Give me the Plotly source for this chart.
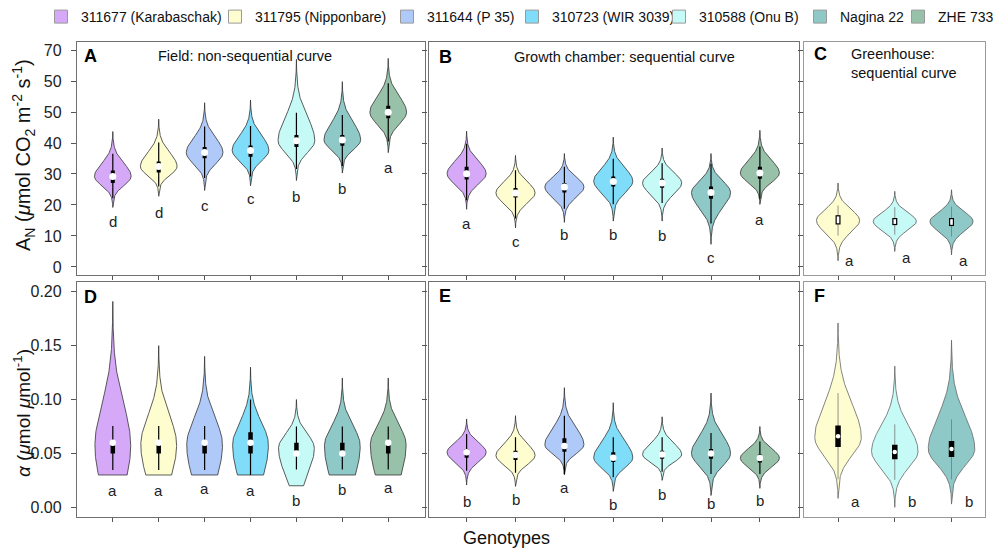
import numpy as np
import plotly.graph_objects as go

# ---------------- data ----------------
GENOTYPES = ["311677 (Karabaschak)", "311795 (Nipponbare)", "311644 (P 35)",
             "310723 (WIR 3039)", "310588 (Onu B)", "Nagina 22", "ZHE 733"]
COLORS = ["#D6A9F8", "#FEFDD0", "#AFC9F9", "#80DDF9", "#C6FAF6", "#8EC9C8", "#97C2A9"]

# Panel A - Field: non-sequential curve (A_N)
a_geno = [0, 1, 2, 3, 4, 5, 6]
a_tip_lo = [19.2, 22.8, 24.7, 26.2, 27.9, 30.3, 36.9]
a_tip_hi = [43.7, 47.7, 53.0, 53.9, 67.0, 59.8, 67.3]
a_mode = [29.2, 32.4, 36.9, 37.6, 40.7, 41.0, 49.9]
a_wlo = [22.2, 26.0, 28.7, 29.2, 31.6, 32.6, 40.5]
a_whi = [36.5, 40.2, 45.3, 45.5, 49.8, 49.0, 59.3]
a_q1 = [27.1, 30.5, 35.1, 35.6, 38.7, 39.1, 48.0]
a_q3 = [31.1, 34.0, 38.7, 39.2, 42.6, 42.6, 52.0]
a_med = [29.2, 32.4, 36.9, 37.6, 40.7, 41.0, 49.9]
a_letters = ["d", "d", "c", "c", "b", "b", "a"]
a_letter_y = [14.7, 17.6, 19.8, 22.2, 22.8, 25.4, 32.2]

# Panel B - Growth chamber: sequential curve (A_N)
b_geno = [0, 1, 2, 3, 4, 5, 6]
b_tip_lo = [18.6, 12.6, 14.4, 14.8, 14.8, 7.3, 20.2]
b_tip_hi = [43.8, 36.0, 36.6, 41.9, 38.4, 36.6, 44.1]
b_mode = [30.1, 23.9, 25.8, 27.7, 27.1, 24.0, 30.3]
b_wlo = [21.5, 15.6, 18.8, 20.2, 20.6, 14.0, 22.0]
b_whi = [39.8, 31.2, 32.3, 34.9, 33.5, 33.3, 38.9]
b_q1 = [28.2, 22.4, 24.0, 26.0, 25.6, 22.0, 28.5]
b_q3 = [32.3, 25.5, 27.1, 29.2, 28.5, 26.0, 32.3]
b_med = [30.1, 23.9, 25.8, 27.6, 27.1, 24.0, 30.3]
b_letters = ["a", "c", "b", "b", "b", "c", "a"]
b_letter_y = [14.0, 8.3, 10.5, 10.5, 10.3, 3.2, 15.4]

# Panel C - Greenhouse: sequential curve (A_N)
c_geno = [1, 4, 5]
c_tip_lo = [2.0, 5.0, 3.9]
c_tip_hi = [27.1, 24.4, 24.9]
c_mode = [15.0, 14.7, 14.7]
c_wlo = [10.1, 10.4, 9.8]
c_whi = [19.8, 19.3, 19.5]
c_q1 = [13.7, 13.5, 13.2]
c_q3 = [16.7, 15.8, 15.8]
c_letters = ["a", "a", "a"]
c_letter_y = [2.0, 3.0, 2.2]

# Panel D - Field (alpha)
d_geno = [0, 1, 2, 3, 4, 5, 6]
d_cut = [0.030, 0.030, 0.030, 0.030, 0.020, 0.030, 0.030]
d_cut_w = [0.80, 0.72, 0.73, 0.73, 0.40, 0.73, 0.72]
d_tip_hi = [0.191, 0.150, 0.140, 0.130, 0.100, 0.120, 0.120]
d_mode = [0.057, 0.058, 0.058, 0.058, 0.055, 0.057, 0.058]
d_wlo = [0.0346, 0.0346, 0.0346, 0.030, 0.035, 0.035, 0.035]
d_whi = [0.0754, 0.0754, 0.0754, 0.100, 0.075, 0.075, 0.075]
d_q1 = [0.050, 0.050, 0.050, 0.050, 0.0525, 0.0525, 0.050]
d_q3 = [0.0587, 0.0587, 0.0587, 0.0696, 0.060, 0.060, 0.0587]
d_med = [0.060, 0.060, 0.060, 0.060, 0.050, 0.050, 0.060]
d_letters = ["a", "a", "a", "a", "b", "b", "a"]
d_letter_y = [0.016, 0.016, 0.0176, 0.0155, 0.0068, 0.017, 0.0185]

# Panel E - Growth chamber (alpha)
e_geno = [0, 1, 2, 3, 4, 5, 6]
e_tip_lo = [0.0207, 0.0194, 0.030, 0.0148, 0.025, 0.011, 0.0176]
e_tip_hi = [0.082, 0.085, 0.111, 0.097, 0.084, 0.106, 0.075]
e_mode = [0.051, 0.048, 0.058, 0.046, 0.049, 0.050, 0.0457]
e_wlo = [0.034, 0.032, 0.031, 0.028, 0.033, 0.031, 0.031]
e_whi = [0.068, 0.065, 0.085, 0.065, 0.065, 0.069, 0.061]
e_q1 = [0.046, 0.044, 0.0515, 0.042, 0.045, 0.045, 0.0417]
e_q3 = [0.054, 0.0525, 0.064, 0.051, 0.0525, 0.054, 0.049]
e_med = [0.051, 0.0485, 0.057, 0.046, 0.049, 0.050, 0.0457]
e_letters = ["b", "b", "a", "b", "b", "b", "b"]
e_letter_y = [0.005, 0.007, 0.018, 0.003, 0.012, 0.004, 0.006]

# Panel F - Greenhouse (alpha)
f_geno = [1, 4, 5]
f_tip_lo = [0.0083, 0.0, 0.003]
f_tip_hi = [0.171, 0.131, 0.155]
f_mode = [0.0646, 0.052, 0.054]
f_wlo = [0.026, 0.0255, 0.026]
f_whi = [0.106, 0.077, 0.0815]
f_q1 = [0.056, 0.0446, 0.0468]
f_q3 = [0.076, 0.058, 0.0615]
f_med = [0.066, 0.0514, 0.054]
f_letters = ["a", "b", "b"]
f_letter_y = [0.005, 0.005, 0.005]

TOP_TICKS = [0, 10, 20, 30, 40, 50, 60, 70]
TOP_TICK_TEXT = ["0", "10", "20", "30", "40", "50", "50", "70"]
BOT_TICKS = [0.0, 0.05, 0.10, 0.15, 0.20]
BOT_TICK_TEXT = ["0.00", "0.05", "0.10", "0.15", "0.20"]

# ---------------- style ----------------
FONT = "Liberation Sans, Arial, Helvetica, sans-serif"
W, H = 993, 548
K_TIP = 3.4
TOP_RANGE = [-2.6, 72.6]
BOT_RANGE = [-0.0085, 0.209]
ROW_PX = 233.0

fig = go.Figure()


def violin_outline(c, mode, hi, hw, lo=None, cut=None, cut_w=None):
    if cut is not None:
        s_dn = (mode - cut) / np.sqrt(-2 * np.log(cut_w))
        start = cut
    else:
        s_dn = (mode - lo) / K_TIP
        start = lo
    s_up = (hi - mode) / K_TIP
    ys = np.linspace(start, hi, 200)
    s = np.where(ys > mode, s_up, s_dn)
    w = hw * np.exp(-0.5 * ((ys - mode) / s) ** 2)
    w[-1] = 0.0
    if cut is None:
        w[0] = 0.0
    xs = np.concatenate([c + w, (c - w)[::-1], [c + w[0]]])
    yy = np.concatenate([ys, ys[::-1], [ys[0]]])
    return xs, yy


def add_panel(ax, geno, mode, hi, wlo, whi, q1, q3, med, lo=None, cut=None, cut_w=None,
              hw=0.4, outline="#333333", whisk_col="black", whisk_w=1.2,
              box_w=4, med_size=7, box_style="solid", yrange=TOP_RANGE):
    xa = "x" if ax == 1 else f"x{ax}"
    ya = "y" if ax == 1 else f"y{ax}"
    n = len(geno)
    cats = list(range(1, n + 1))
    for i in range(n):
        xs, yy = violin_outline(cats[i], mode[i], hi[i], hw,
                                lo=None if lo is None else lo[i],
                                cut=None if cut is None else cut[i],
                                cut_w=None if cut_w is None else cut_w[i])
        fig.add_trace(go.Scatter(x=xs, y=yy, mode="lines", fill="toself",
                                 fillcolor=COLORS[geno[i]],
                                 line=dict(color=outline, width=0.8),
                                 xaxis=xa, yaxis=ya, showlegend=False, hoverinfo="skip"))
    wx, wy = [], []
    for i in range(n):
        wx += [cats[i], cats[i], None]
        wy += [wlo[i], whi[i], None]
    fig.add_trace(go.Scatter(x=wx, y=wy, mode="lines", line=dict(color=whisk_col, width=whisk_w),
                             xaxis=xa, yaxis=ya, showlegend=False, hoverinfo="skip"))
    bx, by = [], []
    for i in range(n):
        bx += [cats[i], cats[i], None]
        by += [q1[i], q3[i], None]
    fig.add_trace(go.Scatter(x=bx, y=by, mode="lines", line=dict(color="black", width=box_w),
                             xaxis=xa, yaxis=ya, showlegend=False, hoverinfo="skip"))
    if box_style == "open":
        inset = 1.2 * (yrange[1] - yrange[0]) / ROW_PX
        ix, iy = [], []
        for i in range(n):
            ix += [cats[i], cats[i], None]
            iy += [q1[i] + inset, q3[i] - inset, None]
        fig.add_trace(go.Scatter(x=ix, y=iy, mode="lines",
                                 line=dict(color="white", width=box_w - 2.4),
                                 xaxis=xa, yaxis=ya, showlegend=False, hoverinfo="skip"))
    if med is not None:
        fig.add_trace(go.Scatter(x=cats, y=med, mode="markers",
                                 marker=dict(color="white", size=med_size, line=dict(width=0)),
                                 xaxis=xa, yaxis=ya, showlegend=False, hoverinfo="skip"))


add_panel(1, a_geno, a_mode, a_tip_hi, a_wlo, a_whi, a_q1, a_q3, a_med, lo=a_tip_lo, hw=0.40)
add_panel(2, b_geno, b_mode, b_tip_hi, b_wlo, b_whi, b_q1, b_q3, b_med, lo=b_tip_lo, hw=0.40)
add_panel(3, c_geno, c_mode, c_tip_hi, c_wlo, c_whi, c_q1, c_q3, None, lo=c_tip_lo, hw=0.38,
          outline="#555555", whisk_col="#777777", whisk_w=0.8, box_w=5, box_style="open")
add_panel(4, d_geno, d_mode, d_tip_hi, d_wlo, d_whi, d_q1, d_q3, d_med, cut=d_cut, cut_w=d_cut_w,
          hw=0.39, box_w=4.5, med_size=6.5, yrange=BOT_RANGE)
add_panel(5, e_geno, e_mode, e_tip_hi, e_wlo, e_whi, e_q1, e_q3, e_med, lo=e_tip_lo, hw=0.40,
          box_w=4, med_size=6.5, yrange=BOT_RANGE)
add_panel(6, f_geno, f_mode, f_tip_hi, f_wlo, f_whi, f_q1, f_q3, f_med, lo=f_tip_lo, hw=0.41,
          outline="#666666", whisk_col="#777777", whisk_w=0.8, box_w=5.5, med_size=4.5,
          yrange=BOT_RANGE)

# ---------------- legend (one legend per entry for exact placement) ----------------
LEG_TEXT_X = [76, 250, 422, 547, 694, 835, 933]
leg_layout = {}
for i, name in enumerate(GENOTYPES):
    key = "legend" if i == 0 else f"legend{i + 1}"
    fig.add_trace(go.Scatter(x=[None], y=[None], mode="markers", name=name,
                             marker=dict(symbol="square", size=13, color=COLORS[i],
                                         line=dict(color="#9a9a9a", width=1)),
                             legend=key, showlegend=True))
    leg_layout[key] = dict(x=(LEG_TEXT_X[i] - 35) / W, xanchor="left", y=1 - 17 / H,
                           yanchor="middle", orientation="h", bgcolor="rgba(0,0,0,0)",
                           font=dict(family=FONT, size=14, color="#111"),
                           itemclick=False, itemdoubleclick=False)

# ---------------- axes ----------------
col_dom = [[77 / W, 424.5 / W], [428.5 / W, 798.5 / W], [804 / W, 985 / W]]
row_dom = [[1 - 275 / H, 1 - 42 / H], [1 - 516.5 / H, 1 - 282 / H]]
axis_common = dict(showline=True, mirror=True, linewidth=1.3, ticks="outside",
                   showgrid=False, zeroline=False, tickcolor="#555", ticklen=5)

layout_axes = {}
for p in range(6):
    r, c = divmod(p, 3)
    idx = "" if p == 0 else str(p + 1)
    line_col = "#707070" if c < 2 else "#9a9a9a"
    ncat = 7 if c < 2 else 3
    xr = [0.22, 7.79] if c < 2 else [0.4, 3.59]
    layout_axes[f"xaxis{idx}"] = dict(axis_common, domain=col_dom[c], range=xr,
                                      tickvals=list(range(1, ncat + 1)), showticklabels=False,
                                      linecolor=line_col, ticklen=4,
                                      anchor=f"y{idx}")
    if r == 0:
        yd = dict(range=TOP_RANGE, tickvals=TOP_TICKS, ticktext=TOP_TICK_TEXT)
    else:
        yd = dict(range=BOT_RANGE, tickvals=BOT_TICKS, ticktext=BOT_TICK_TEXT)
    layout_axes[f"yaxis{idx}"] = dict(axis_common, domain=row_dom[r], linecolor=line_col,
                                      showticklabels=(c == 0), anchor=f"x{idx}",
                                      tickfont=dict(family=FONT, size=16, color="#222"),
                                      ticklabelstandoff=6, **yd)

# ---------------- annotations ----------------
ann = []
letter_sets = [(a_letters, a_letter_y, 0.0), (b_letters, b_letter_y, 0.0), (c_letters, c_letter_y, 0.21),
               (d_letters, d_letter_y, 0.0), (e_letters, e_letter_y, 0.0), (f_letters, f_letter_y, 0.3)]
for p, (lets, ly, dx) in enumerate(letter_sets):
    idx = "" if p == 0 else str(p + 1)
    for i, (t, yv) in enumerate(zip(lets, ly)):
        ann.append(dict(x=i + 1 + dx, y=yv, xref=f"x{idx}", yref=f"y{idx}", text=t,
                        showarrow=False, font=dict(family=FONT, size=15, color="#222"),
                        xanchor="center", yanchor="middle"))

panel_labels = [("A", 1, 0.014, 0.94), ("B", 2, 0.023, 0.936), ("C", 3, 0.044, 0.948),
                ("D", 4, 0.014, 0.937), ("E", 5, 0.023, 0.94), ("F", 6, 0.044, 0.94)]
for t, p, xx, yy in panel_labels:
    idx = "" if p == 1 else str(p)
    ann.append(dict(x=xx, y=yy, xref=f"x{idx} domain", yref=f"y{idx} domain", text=f"<b>{t}</b>",
                    showarrow=False, xanchor="left", yanchor="middle",
                    font=dict(family=FONT, size=18, color="black")))

ann.append(dict(x=0.483, y=0.94, xref="x domain", yref="y domain", text="Field: non-sequential curve",
                showarrow=False, xanchor="center", yanchor="middle",
                font=dict(family=FONT, size=14.5, color="#111")))
ann.append(dict(x=0.531, y=0.936, xref="x2 domain", yref="y2 domain",
                text="Growth chamber: sequential curve", showarrow=False, xanchor="center",
                yanchor="middle", font=dict(family=FONT, size=14.5, color="#111")))
ann.append(dict(x=0.249, y=0.908, xref="x3 domain", yref="y3 domain",
                text="Greenhouse:<br>sequential curve", showarrow=False, xanchor="left", align="left",
                yanchor="middle", font=dict(family=FONT, size=14.5, color="#111")))

ann.append(dict(x=23 / W, y=1 - 155 / H, xref="paper", yref="paper", textangle=-90,
                text="A<sub>N</sub> (<i>μ</i>mol CO<sub>2</sub> m<sup>-2</sup> s<sup>-1</sup>)",
                showarrow=False, xanchor="center", yanchor="middle",
                font=dict(family=FONT, size=20, color="#111")))
ann.append(dict(x=22 / W, y=1 - 413 / H, xref="paper", yref="paper", textangle=-90,
                text="<i>α</i> (<i>μ</i>mol <i>μ</i>mol<sup>-1</sup>)",
                showarrow=False, xanchor="center", yanchor="middle",
                font=dict(family=FONT, size=19, color="#111")))
ann.append(dict(x=506 / W, y=1 - 538 / H, xref="paper", yref="paper", text="Genotypes",
                showarrow=False, xanchor="center", yanchor="middle",
                font=dict(family=FONT, size=18, color="#111")))

fig.update_layout(width=W, height=H, margin=dict(l=0, r=0, t=0, b=0, autoexpand=False),
                  paper_bgcolor="white", plot_bgcolor="white",
                  font=dict(family=FONT, color="#111"), hovermode=False,
                  annotations=ann, **layout_axes, **leg_layout)

fig.write_html("out.html", config={"displayModeBar": False, "staticPlot": False},
               post_script="document.body.style.margin='0';document.body.style.padding='0';"
                           "document.body.style.overflow='hidden';")
